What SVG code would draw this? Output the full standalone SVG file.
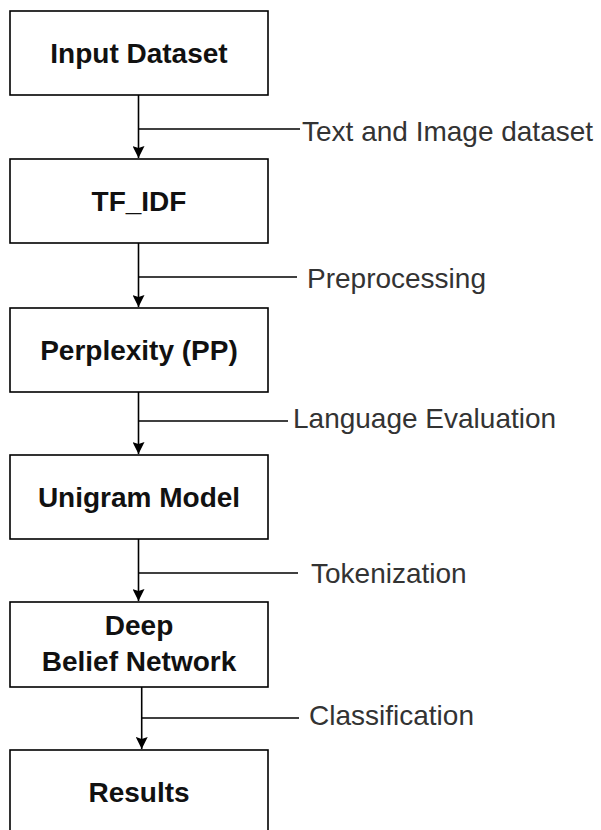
<svg xmlns="http://www.w3.org/2000/svg" width="601" height="830" viewBox="0 0 601 830">
<style>
.box{fill:#fff;stroke:#000;stroke-width:1.6}
.nt{font-family:"Liberation Sans",Arial,sans-serif;font-size:28px;font-weight:bold;fill:#111;text-anchor:middle}
.lb{font-family:"Liberation Sans",Arial,sans-serif;font-size:28px;fill:#333}
.ln{fill:none;stroke:#000;stroke-width:1.6}
</style>
<defs>
<marker id="arr" markerUnits="userSpaceOnUse" markerWidth="12" markerHeight="12" refX="12" refY="6" orient="auto">
<path d="M0,0 L12,6 L0,12 L2,6 z" fill="#000"/>
</marker>
</defs>
<rect width="601" height="830" fill="#fff"/>
<g id="connectors">
<line class="ln" x1="138.5" y1="95" x2="138.5" y2="158" marker-end="url(#arr)"/>
<line class="ln" x1="138.5" y1="129" x2="300" y2="129"/>
<line class="ln" x1="138.5" y1="243" x2="138.5" y2="307" marker-end="url(#arr)"/>
<line class="ln" x1="138.5" y1="277" x2="297" y2="277"/>
<line class="ln" x1="138.5" y1="392" x2="138.5" y2="454" marker-end="url(#arr)"/>
<line class="ln" x1="138.5" y1="421" x2="288" y2="421"/>
<line class="ln" x1="138.5" y1="539" x2="138.5" y2="601" marker-end="url(#arr)"/>
<line class="ln" x1="138.5" y1="573" x2="298" y2="573"/>
<line class="ln" x1="141.7" y1="687" x2="141.7" y2="749" marker-end="url(#arr)"/>
<line class="ln" x1="141.7" y1="718" x2="299" y2="718"/>
</g>
<g id="labels">
<text class="lb" x="302" y="141">Text and Image dataset</text>
<text class="lb" x="307" y="288">Preprocessing</text>
<text class="lb" x="293" y="428">Language Evaluation</text>
<text class="lb" x="311" y="583">Tokenization</text>
<text class="lb" x="309" y="725">Classification</text>
</g>
<g id="n1"><rect class="box" x="10" y="11" width="258" height="84"/><text class="nt" x="139" y="63">Input Dataset</text></g>
<g id="n2"><rect class="box" x="10" y="159" width="258" height="84"/><text class="nt" x="139" y="211">TF_IDF</text></g>
<g id="n3"><rect class="box" x="10" y="308" width="258" height="84"/><text class="nt" x="139" y="360">Perplexity (PP)</text></g>
<g id="n4"><rect class="box" x="10" y="455" width="258" height="84"/><text class="nt" x="139" y="507">Unigram Model</text></g>
<g id="n5"><rect class="box" x="10" y="602" width="258" height="85"/><text class="nt" x="139" y="635">Deep</text><text class="nt" x="139" y="671">Belief Network</text></g>
<g id="n6"><rect class="box" x="10" y="750" width="258" height="85"/><text class="nt" x="139" y="802">Results</text></g>
</svg>
